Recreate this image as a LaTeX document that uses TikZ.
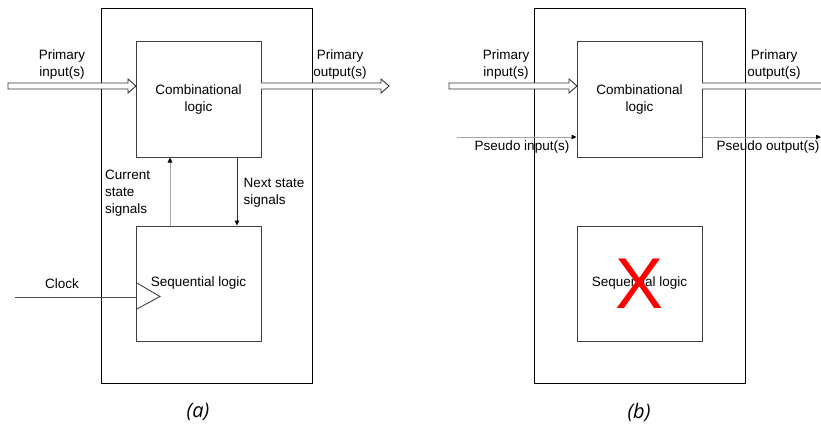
\documentclass[tikz,border=0pt]{standalone}
\usepackage{fontspec}
\setmainfont{Liberation Sans}
\newfontfamily\capfont{Open Sans}
\usetikzlibrary{arrows.meta}
\begin{document}
\begin{tikzpicture}[x=1pt,y=-1pt,
  every node/.style={font=\fontsize{13.5}{17}\selectfont, inner sep=0pt},
  outerbox/.style={draw=black, line width=1pt, minimum width=211pt, minimum height=374pt},
  logicbox/.style={draw=black!75, line width=1pt, minimum width=125pt, minimum height=115pt, align=center},
  lbl/.style={align=center},
  lbll/.style={align=left, anchor=west},
  fat/.style={draw=black!80, line width=0.9pt, fill=white},
  sigline/.style={draw=black!35, line width=1pt, -{Triangle[black,length=5pt,width=4.5pt]}},
  siglineb/.style={draw=black!80, line width=0.8pt, -{Triangle[black,length=5pt,width=4.5pt]}},
  captext/.style={font=\capfont\itshape\fontsize{20}{22}\selectfont}
]
\clip (0,0) rectangle (821,425);
\fill[white] (0,0) rectangle (821,425);

% ---------------- (a) ----------------
\node[outerbox] (oa) at (206.5,196) {};
\node[logicbox] (ca) at (198.5,99.5) {Combinational\\logic};
\node[logicbox] (sa) at (198.5,283.5) {Sequential logic};

\draw[fat] (8,83) -- (128,83) -- (128,79) -- (136,86) -- (128,93) -- (128,89) -- (8,89) -- cycle;
\draw[fat] (261,83) -- (381,83) -- (381,79) -- (389,86) -- (381,93) -- (381,89) -- (261,89);
\node[lbl] (tpia) at (62,65) {Primary\\input(s)};
\node[lbl] (tpoa) at (340,65) {Primary\\output(s)};

\coordinate (csx) at (170,0);
\coordinate (nsx) at (237,0);
\draw[sigline] (sa.north -| csx) -- (ca.south -| csx);
\draw[siglineb] (ca.south -| nsx) -- (sa.north -| nsx);
\node[lbll] (tcs) at (105,193.5) {Current\\state\\signals};
\node[lbll] (tns) at (243.5,192.5) {Next state\\signals};

\coordinate (clk) at (15,297);
\draw[draw=black!70, line width=0.8pt] (clk) -- (clk -| sa.west);
\draw[draw=black!80, line width=0.8pt] (136,282.5) -- (160,296.5) -- (136,309.5);
\node[lbl] (tclk) at (62,284) {Clock};

\node[captext] (capa) at (198,412) {(a)};

% ---------------- (b) ----------------
\node[outerbox] (ob) at (639.5,196) {};
\node[logicbox] (cb) at (639.5,99.5) {Combinational\\logic};
\node[logicbox] (sb) at (639.5,283.5) {Sequential logic};

\draw[fat] (449,83) -- (569,83) -- (569,79) -- (577,86) -- (569,93) -- (569,89) -- (449,89) -- cycle;
\draw[fat] (702,83) -- (832,83) -- (832,79) -- (840,86) -- (832,93) -- (832,89) -- (702,89);
\node[lbl] (tpib) at (506,65) {Primary\\input(s)};
\node[lbl] (tpob) at (774,65) {Primary\\output(s)};

\coordinate (psi) at (457,137);
\coordinate (pso) at (821,137);
\draw[sigline] (psi) -- (psi -| cb.west);
\draw[sigline] (pso -| cb.east) -- (pso);
\node[lbl] (tpsi) at (522,147) {Pseudo input(s)};
\node[lbl] (tpso) at (768,147) {Pseudo output(s)};

\node[text=red, font=\fontsize{72}{72}\selectfont, inner sep=0pt] (xb) at (640,284) {X};

\node[captext] (capb) at (639,412) {(b)};
\end{tikzpicture}
\end{document}
